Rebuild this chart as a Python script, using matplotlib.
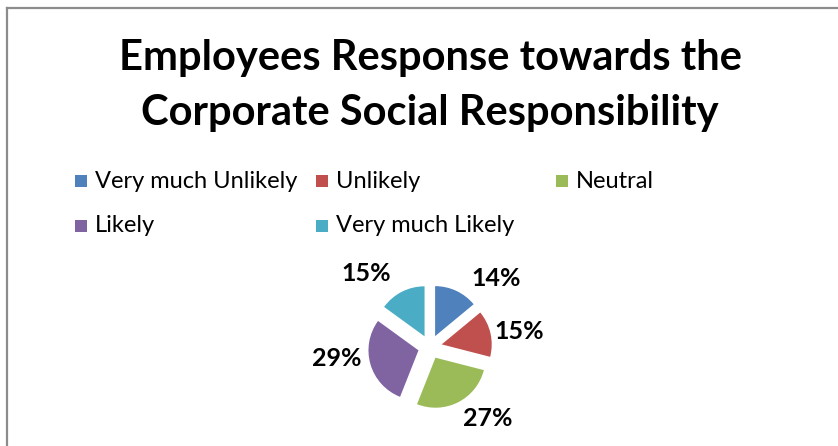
import matplotlib.pyplot as plt
from matplotlib.patches import Rectangle
from matplotlib.lines import Line2D
import numpy as np

# survey answers, share of employees in percent
categories = ["Very much Unlikely", "Unlikely", "Neutral", "Likely", "Very much Likely"]
shares = [14, 15, 27, 29, 15]
colors = ["#4F81BD", "#C0504D", "#9BBB59", "#8064A2", "#4BACC6"]
title_lines = ["Employees Response towards the", "Corporate Social Responsibility"]

W, H = 838, 446
plt.rcParams['font.family'] = ['Lato', 'DejaVu Sans']

fig = plt.figure(figsize=(W / 100, H / 100), dpi=100)
fig.patch.set_facecolor("white")

def px(x, y):
    # pixel position (from top left) -> figure fraction
    return x / W, 1 - y / H

# chart area frame: only the top and left edges fall inside the picture
x0, y0 = px(7, 8)
fig.add_artist(Line2D([x0, x0], [y0, -0.1], color="#8c8c8c", lw=1.6))
fig.add_artist(Line2D([x0, 1.1], [y0, y0], color="#8c8c8c", lw=1.6))

# title
for line, ty in zip(title_lines, [58, 113]):
    tx, tyf = px(430, ty)
    fig.text(tx, tyf, line, ha="center", va="center", fontsize=30,
             fontweight="bold", color="black")

# legend laid out in rows of three, fixed column slots
col_x = [75, 316, 556]
row_y = [181, 226]
for i, (name, c) in enumerate(zip(categories, colors)):
    r, k = divmod(i, 3)
    mx, my = col_x[k], row_y[r]
    fx, fy = px(mx, my + 6)
    fig.add_artist(Rectangle((fx, fy), 12 / W, 12 / H, transform=fig.transFigure,
                             facecolor=c, edgecolor="none"))
    tx, tyf = px(mx + 20, my)
    fig.text(tx, tyf, name, ha="left", va="center", fontsize=17, color="black")

# pie: center at (430, 347) px, radius 50 px -> 1 data unit = 50 px
cx, cy = 430, 347
R = 50
ax = fig.add_axes([(cx - 2 * R) / W, (H - cy - 2 * R) / H, 4 * R / W, 4 * R / H])
wedges, texts, autotexts = ax.pie(
    shares, colors=colors, startangle=90, counterclock=False,
    explode=[0.24] * len(shares), radius=1,
    autopct=lambda p: "%d%%" % round(p), pctdistance=1.85,
    wedgeprops=dict(edgecolor="none"),
    textprops=dict(fontsize=18, fontweight="bold", color="black"))
ax.set_xlim(-2, 2)
ax.set_ylim(-2, 2)
ax.set_aspect("equal")
ax.axis("off")

# nudge the value labels around the outside like best-fit placement
label_shift = [-19, -3, 12, -9, 14]
label_dist = [1.9, 1.8, 1.85, 1.88, 1.95]
start = 90.0
for t, s, sh, d in zip(autotexts, shares, label_shift, label_dist):
    span = s / sum(shares) * 360
    mid = start - span / 2 + sh
    start -= span
    t.set_position((d * np.cos(np.radians(mid)), d * np.sin(np.radians(mid))))
    t.set_ha("center")
    t.set_va("center")

fig.savefig("out.png", dpi=100, facecolor="white")
